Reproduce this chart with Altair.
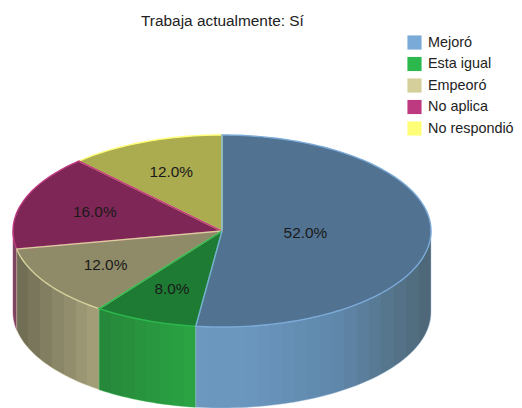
import math
import altair as alt
import pandas as pd

# ---- data -----------------------------------------------------------------
categories = ["Mejoró", "Esta igual", "Empeoró", "No aplica", "No respondió"]
shares = [52.0, 8.0, 12.0, 16.0, 12.0]
colors = ["#7AAAD8", "#2DB84D", "#D5CF9B", "#BD3A80", "#FFFF77"]
title_text = "Trabaja actualmente: Sí"

# ---- layout ---------------------------------------------------------------
VIEW_TOP = 34
CX, CY = 214, 232 - VIEW_TOP
RX, RY, DEPTH = 209, 96, 81
LABEL_R = [0.40, 0.65, 0.66, 0.64, 0.66]
BAND_PX = 12.5


def pt(deg, f=1.0, dy=0.0):
    a = math.radians(deg)
    return [CX + RX * f * math.sin(a), CY - RY * f * math.cos(a) + dy]


def arc(a0, a1, dy=0.0):
    n = max(2, int(abs(a1 - a0) / 1.5) + 1)
    return [pt(a0 + (a1 - a0) * i / (n - 1), 1.0, dy) for i in range(n)]


def feature(ring, name):
    return {
        "type": "Feature",
        "geometry": {"type": "Polygon", "coordinates": [ring + [ring[0]]]},
        "properties": {"category": name},
    }


bounds = []
acc = 0.0
for s in shares:
    bounds.append((acc * 3.6, (acc + s) * 3.6))
    acc += s

faces, walls, widths, lon, lat = [], {}, {}, [], []
slice_names = ["Mejoró", "Esta igual", "Empeoró", "No aplica", "No respondió"]
for name, (a0, a1), f in zip(slice_names, bounds, LABEL_R):
    faces.append(feature([[CX, CY]] + arc(a0, a1), name))
    w0, w1 = max(a0, 90.0), min(a1, 270.0)
    if w1 > w0:
        walls[name] = feature(arc(w0, w1) + arc(w1, w0, DEPTH), name)
        xs = [p[0] for p in arc(w0, w1)]
        widths[name] = max(xs) - min(xs)
    m = pt((a0 + a1) / 2, f)
    lon.append(m[0])
    lat.append(m[1])

labels = pd.DataFrame(
    {"lon": lon, "lat": lat, "label": [f"{s:.1f}%" for s in shares]}
)

projection = dict(type="identity", scale=1, translate=[0, 0])


def mix(stops, t):
    for (o0, c0), (o1, c1) in zip(stops, stops[1:]):
        if t <= o1:
            u = (t - o0) / (o1 - o0)
            rgb = [
                round(int(c0[i:i + 2], 16) * (1 - u) + int(c1[i:i + 2], 16) * u)
                for i in (1, 3, 5)
            ]
            return "#%02X%02X%02X" % tuple(rgb)
    return stops[-1][1]


def banded(stops, width):
    n = max(1, round(width / BAND_PX))
    out = []
    for i in range(n):
        c = mix(stops, (i + 0.5) / n)
        out.append(alt.GradientStop(offset=i / n, color=c))
        out.append(alt.GradientStop(offset=(i + 1) / n, color=c))
    return alt.Gradient(gradient="linear", x1=0, x2=1, y1=0, y2=0, stops=out)


wall_fills = {
    "No aplica": [(0, "#B23C7E"), (0.35, "#7A4660"), (1, "#75485E")],
    "Empeoró": [(0, "#6C6A52"), (0.5, "#8A8668"), (1, "#A6A07A")],
    "Esta igual": [(0, "#26863A"), (1, "#2BA544")],
    "Mejoró": [(0, "#6C98C0"), (0.25, "#6A95BC"), (0.6, "#5F87AB"),
               (0.85, "#557389"), (1, "#4D6676")],
}
wall_edges = {"No aplica": "#BD3A80", "Empeoró": "#E0DBB0",
              "Esta igual": "#2DB84D", "Mejoró": "#A9C6E2"}

layers = []
for name in ["No aplica", "Empeoró", "Esta igual", "Mejoró"]:
    layers.append(
        alt.Chart(alt.Data(values=[walls[name]])).mark_geoshape(
            fill=banded(wall_fills[name], widths[name]), stroke=wall_edges[name],
            strokeWidth=0.6, strokeOpacity=0.7,
        )
    )

color_scale = alt.Scale(domain=categories, range=colors)
faces_data = alt.Data(values=faces)

layers.append(
    alt.Chart(faces_data).mark_geoshape(strokeWidth=0).encode(
        color=alt.Color(
            "properties.category:N",
            scale=color_scale,
            legend=alt.Legend(
                title=None, orient="none", legendX=399, legendY=2,
                symbolType="square", symbolSize=200, symbolStrokeWidth=0,
                labelFont="Liberation Sans", labelFontSize=14.4, labelColor="#222222",
                rowPadding=5.5, labelOffset=6, labelLimit=140,
            ),
        )
    )
)
layers.append(
    alt.Chart(faces_data).mark_geoshape(
        fill="black", fillOpacity=0.33, strokeWidth=0
    )
)
# outlines drawn last-slice-first, so each boundary takes the earlier slice's colour
layers.append(
    alt.Chart(alt.Data(values=faces[::-1])).mark_geoshape(
        filled=False, strokeWidth=1.4
    ).encode(
        color=alt.Color(
            "properties.category:N", scale=color_scale, legend=None, sort=None
        )
    )
)
layers.append(
    alt.Chart(labels).mark_text(
        font="Liberation Sans", fontSize=15.4, color="#1A1A1A", dy=0
    ).encode(longitude="lon:Q", latitude="lat:Q", text="label:N")
)

chart = (
    alt.layer(*layers)
    .properties(
        width=506,
        height=376,
        padding={"left": 0, "top": 5, "right": 0, "bottom": 0},
        title=alt.TitleParams(
            title_text, anchor="start", dx=133, font="Liberation Sans",
            fontSize=15.4, fontWeight="normal", color="#222222", offset=4,
        ),
    )
    .project(**projection)
    .configure_view(stroke=None)
)

chart.save("out.html", embed_options={"renderer": "svg", "actions": False})
